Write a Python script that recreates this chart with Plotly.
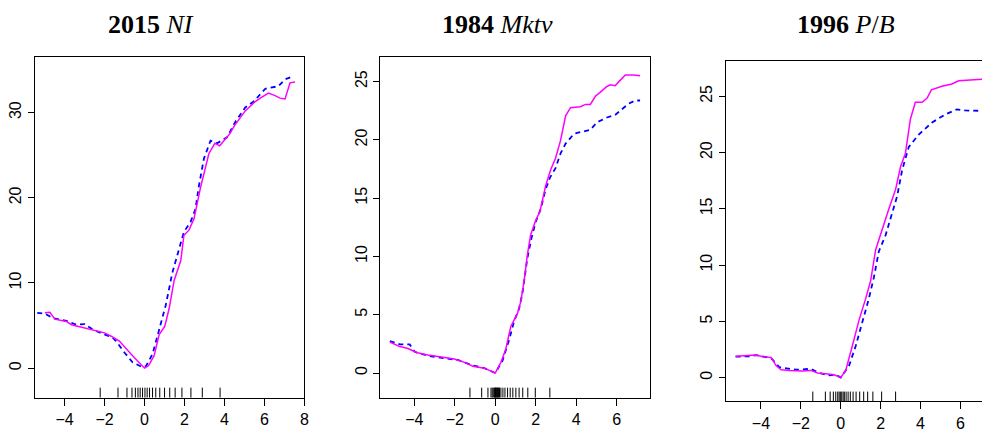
import plotly.graph_objects as go

# ---------------- data ----------------
# Panel 1: 2015 NI
p1_solid_x = [-4.99, -4.74, -4.49, -3.91, -3.66, -2.92, -2.00, -1.67, -1.26, -0.60, 0.00, 0.20, 0.48, 0.73, 1.01, 1.23, 1.48, 1.81, 1.97, 2.22, 2.47, 2.80, 3.22, 3.52, 3.76, 4.26, 4.51, 5.04, 5.54, 5.79, 6.20, 6.53, 6.78, 7.03, 7.28, 7.53]
p1_solid_y = [6.51, 6.55, 5.75, 5.48, 5.10, 4.71, 4.14, 3.75, 3.18, 1.46, 0.00, 0.31, 1.46, 3.95, 4.90, 7.00, 10.3, 12.6, 15.6, 16.2, 17.5, 21.2, 25.2, 26.4, 26.1, 27.5, 28.5, 30.2, 31.3, 31.7, 32.3, 32.0, 31.7, 31.6, 33.5, 33.6]
p1_dash_x = [-5.37, -4.99, -4.58, -3.91, -3.42, -3.00, -2.59, -2.00, -1.59, -1.43, -1.01, -0.60, -0.10, 0.07, 0.40, 0.73, 1.06, 1.39, 1.72, 1.97, 2.31, 2.55, 2.72, 2.97, 3.30, 3.63, 4.13, 4.54, 5.04, 5.46, 6.04, 6.70, 7.03, 7.36]
p1_dash_y = [6.50, 6.40, 5.86, 5.56, 5.10, 5.17, 4.52, 3.95, 3.56, 3.18, 1.84, 0.69, 0.11, 0.23, 1.65, 4.52, 7.39, 11.2, 14.1, 16.0, 17.2, 18.7, 21.4, 24.6, 26.7, 26.4, 27.1, 28.9, 30.6, 31.3, 32.8, 33.1, 33.9, 34.2]
p1_rug = [-2.22, -1.33, -0.88, -0.63, -0.46, -0.33, -0.22, -0.10, 0.02, 0.13, 0.25, 0.40, 0.56, 0.76, 1.00, 1.26, 1.53, 1.87, 2.32, 2.89, 3.78]

# Panel 2: 1984 Mktv
p2_solid_x = [-5.21, -4.72, -4.31, -3.90, -3.33, -2.67, -2.02, -1.44, -1.11, -0.54, 0.00, 0.28, 0.52, 0.77, 1.10, 1.26, 1.43, 1.59, 1.75, 2.00, 2.21, 2.49, 2.74, 2.98, 3.23, 3.48, 3.72, 4.21, 4.46, 4.70, 4.95, 5.20, 5.49, 5.69, 5.93, 6.15, 6.43, 6.84, 7.16]
p2_solid_y = [2.66, 2.27, 2.10, 1.76, 1.54, 1.34, 1.20, 0.87, 0.59, 0.42, 0.00, 0.92, 2.04, 4.00, 5.12, 6.10, 7.92, 10.16, 11.84, 13.10, 13.86, 16.04, 17.44, 18.42, 19.96, 22.06, 22.76, 22.84, 23.04, 23.04, 23.74, 24.10, 24.55, 24.72, 24.64, 25.06, 25.56, 25.56, 25.50]
p2_dash_x = [-5.21, -4.72, -4.23, -3.98, -3.33, -2.51, -1.85, -1.20, -0.54, 0.00, 0.36, 0.69, 0.93, 1.18, 1.34, 1.59, 1.79, 2.00, 2.25, 2.49, 2.70, 2.98, 3.23, 3.48, 3.89, 4.21, 4.70, 5.03, 5.52, 5.93, 6.26, 6.59, 6.92, 7.16]
p2_dash_y = [2.74, 2.46, 2.46, 1.82, 1.48, 1.26, 1.12, 0.70, 0.42, 0.00, 1.06, 2.88, 4.42, 5.54, 6.80, 9.88, 11.56, 12.96, 14.08, 15.76, 16.74, 17.58, 18.84, 19.68, 20.52, 20.66, 20.86, 21.50, 21.92, 22.14, 22.62, 23.10, 23.38, 23.38]
p2_rug = [-1.25, -0.67, -0.36, -0.21, -0.15, -0.10, -0.05, -0.02, 0.00, 0.02, 0.05, 0.08, 0.10, 0.13, 0.15, 0.18, 0.21, 0.28, 0.38, 0.48, 0.61, 0.74, 0.87, 1.02, 1.18, 1.36, 1.61, 1.98, 2.70]

# Panel 3: 1996 P/B
p3_solid_x = [-5.27, -4.83, -4.24, -3.91, -3.49, -3.24, -2.99, -2.58, -1.91, -1.50, -1.16, -0.75, -0.33, 0.00, 0.25, 0.58, 0.92, 1.25, 1.50, 1.75, 2.08, 2.41, 2.75, 3.00, 3.24, 3.49, 3.74, 4.08, 4.33, 4.54, 5.07, 5.57, 5.91, 6.41, 7.07, 7.30]
p3_solid_y = [1.89, 1.94, 2.00, 1.86, 1.80, 1.07, 0.70, 0.64, 0.58, 0.64, 0.41, 0.35, 0.26, 0.00, 0.64, 2.81, 5.13, 7.02, 8.61, 11.37, 13.25, 14.99, 16.73, 18.76, 19.92, 22.97, 24.48, 24.48, 24.85, 25.58, 25.90, 26.10, 26.39, 26.42, 26.50, 26.55]
p3_dash_x = [-5.27, -4.58, -4.24, -3.49, -3.08, -2.25, -1.50, -1.08, -0.58, -0.25, 0.00, 0.42, 0.75, 1.08, 1.41, 1.66, 1.91, 2.25, 2.58, 2.83, 3.08, 3.41, 3.91, 4.58, 5.24, 5.82, 6.24, 7.07, 7.30]
p3_dash_y = [1.86, 1.89, 2.00, 1.74, 0.93, 0.70, 0.78, 0.41, 0.20, 0.26, 0.00, 1.07, 2.81, 4.84, 7.02, 8.90, 11.22, 12.67, 14.56, 16.15, 18.47, 20.50, 21.61, 22.68, 23.40, 23.84, 23.75, 23.70, 23.70]
p3_rug = [-1.40, -0.77, -0.53, -0.37, -0.25, -0.15, -0.08, -0.02, 0.05, 0.12, 0.18, 0.27, 0.37, 0.48, 0.62, 0.77, 0.95, 1.15, 1.35, 1.61, 2.05, 2.75]

titles = ["<b>2015</b> <i>NI</i>", "<b>1984</b> <i>Mktv</i>", "<b>1996</b> <i>P</i>/<i>B</i>"]
x_ticks = [[-4, -2, 0, 2, 4, 6, 8], [-4, -2, 0, 2, 4, 6], [-4, -2, 0, 2, 4, 6]]
y_ticks = [[0, 10, 20, 30], [0, 5, 10, 15, 20, 25], [0, 5, 10, 15, 20, 25]]

# ---------------- layout geometry ----------------
x_domains = [[0.0355, 0.3100], [0.3873, 0.6619], [0.7389, 1.0]]
y_domains = [[0.0602, 0.8657], [0.0602, 0.8650], [0.0509, 0.8565]]
x_ranges = [[-5.49, 8.0], [-5.68, 7.65], [-5.77, 7.08]]
y_ranges = [[-3.45, 36.55], [-2.10, 27.10], [-2.12, 28.17]]
title_x = [152 / 987, 499.6 / 987, 850 / 987]

solid = [(p1_solid_x, p1_solid_y), (p2_solid_x, p2_solid_y), (p3_solid_x, p3_solid_y)]
dash = [(p1_dash_x, p1_dash_y), (p2_dash_x, p2_dash_y), (p3_dash_x, p3_dash_y)]
rugs = [p1_rug, p2_rug, p3_rug]

fig = go.Figure()
shapes = []
annotations = []
tick_font = dict(family="Liberation Sans, Arial, sans-serif", size=16, color="#000")

for i in range(3):
    n = "" if i == 0 else str(i + 1)
    xa, ya = "x" + n, "y" + n
    fig.add_trace(go.Scatter(x=dash[i][0], y=dash[i][1], mode="lines", xaxis=xa, yaxis=ya,
                             line=dict(color="#0000FF", width=1.8, dash="5px,4px"),
                             showlegend=False, hoverinfo="skip"))
    fig.add_trace(go.Scatter(x=solid[i][0], y=solid[i][1], mode="lines", xaxis=xa, yaxis=ya,
                             line=dict(color="#FF00FF", width=1.5),
                             showlegend=False, hoverinfo="skip"))
    for r in rugs[i]:
        shapes.append(dict(type="line", xref=xa, yref=ya + " domain", x0=r, x1=r, y0=0, y1=0.029,
                           line=dict(color="#000", width=1)))
    annotations.append(dict(text=titles[i], xref="paper", yref="paper", x=title_x[i], y=1 - 25 / 432,
                            xanchor="center", yanchor="middle", showarrow=False,
                            font=dict(family="Liberation Serif, Times New Roman, serif", size=26, color="#000")))
    fig.update_layout(**{
        "xaxis" + n: dict(domain=x_domains[i], range=x_ranges[i], anchor=ya, tickvals=x_ticks[i],
                          ticktext=[str(v).replace("-", "\u2212") for v in x_ticks[i]],
                          ticks="outside", ticklen=7, tickcolor="#000", showline=True, linecolor="#000",
                          linewidth=1, mirror=True, showgrid=False, zeroline=False, tickfont=tick_font),
        "yaxis" + n: dict(domain=y_domains[i], range=y_ranges[i], anchor=xa, tickvals=y_ticks[i],
                          ticks="outside", ticklen=6, tickcolor="#000", showline=True, linecolor="#000",
                          linewidth=1, mirror=(i < 2), showgrid=False, zeroline=False, tickangle=-90,
                          tickfont=tick_font),
    })

fig.update_layout(width=987, height=432, margin=dict(l=0, r=0, t=0, b=0),
                  plot_bgcolor="white", paper_bgcolor="white",
                  shapes=shapes, annotations=annotations)

fig.write_html("out.html")
